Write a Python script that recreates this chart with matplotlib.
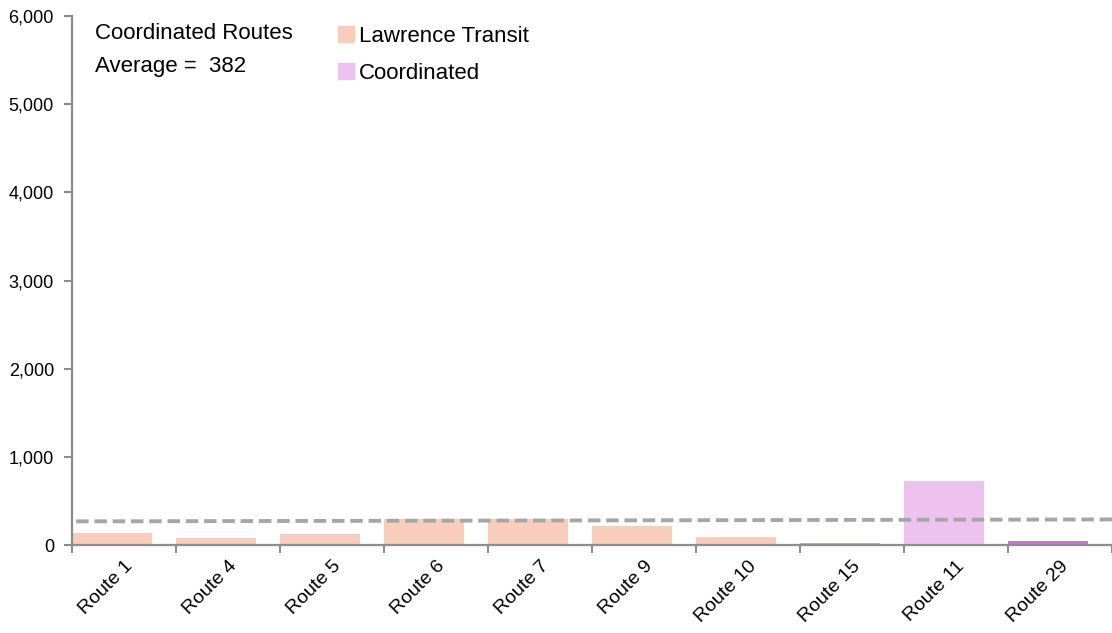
import matplotlib

matplotlib.use("Agg")
import matplotlib.pyplot as plt
from matplotlib.patches import Patch

routes = ["Route 1", "Route 4", "Route 5", "Route 6", "Route 7",
          "Route 9", "Route 10", "Route 15", "Route 11", "Route 29"]
values = [140, 75, 125, 300, 290, 215, 90, 20, 730, 42]
groups = ["Lawrence", "Lawrence", "Lawrence", "Lawrence", "Lawrence",
          "Lawrence", "Lawrence", "Lawrence", "Coordinated", "Route29"]
avg_line = [268, 290]  # dashed reference line, left end -> right end
avg_label = 382

plt.rcParams["font.family"] = ["Liberation Sans", "DejaVu Sans"]

colors = {"Lawrence": "#f9cdbc", "Coordinated": "#eec2ef", "Route29": "#d56be0"}
grey = "#8c8c8c"

fig = plt.figure(figsize=(11.12, 6.33), dpi=100)
ax = fig.add_axes([72 / 1112, 1 - 545 / 633, 1 - 72 / 1112, (545 - 16) / 633])

xs = list(range(len(routes)))
bar_colors = [colors[g] for g in groups]
bar_colors[7] = "#d9a898"  # route 15 is a hairline, shows darker
ax.bar([x - 0.5 for x in xs], values, width=0.77, align="edge",
       color=bar_colors, zorder=2)
ax.plot([-0.46, 9.5], avg_line, ls=(0, (3.2, 1.5)), color="#a6a6a6", lw=2.8, zorder=3)

ax.set_xlim(-0.5, 9.47)
ax.set_ylim(0, 6000)
ax.set_yticks(range(0, 6001, 1000))
ax.set_yticklabels([f"{v:,}" for v in range(0, 6001, 1000)], fontsize=13)
ax.set_xticks(xs)
ax.set_xticklabels(routes, rotation=45, ha="right", va="top",
                   rotation_mode="anchor", fontsize=14)
ax.tick_params(axis="x", which="major", length=0, pad=9)
ax.set_xticks([x - 0.5 for x in xs] + [9.5], minor=True)
ax.tick_params(axis="x", which="minor", length=6, width=1.5, color=grey, direction="out")
ax.tick_params(axis="y", length=6, width=1.5, color=grey, direction="out", pad=7)

for s in ("top", "right"):
    ax.spines[s].set_visible(False)
for s in ("left", "bottom"):
    ax.spines[s].set_color(grey)
    ax.spines[s].set_linewidth(1.6)

ax.text(95 / 1112, 1 - 23 / 633, f"Coordinated Routes\nAverage =  {avg_label}",
        transform=fig.transFigure, ha="left", va="top", fontsize=16,
        linespacing=1.72)

handles = [Patch(color=colors["Lawrence"], label="Lawrence Transit"),
           Patch(color=colors["Coordinated"], label="Coordinated")]
fig.legend(handles=handles, loc="upper left", bbox_to_anchor=(318 / 1112, 1 - 6 / 633),
           frameon=False, prop={"size": 16},
           handlelength=0.7, handleheight=0.7, handletextpad=0.25, labelspacing=0.7)

fig.savefig("out.png", dpi=100)
